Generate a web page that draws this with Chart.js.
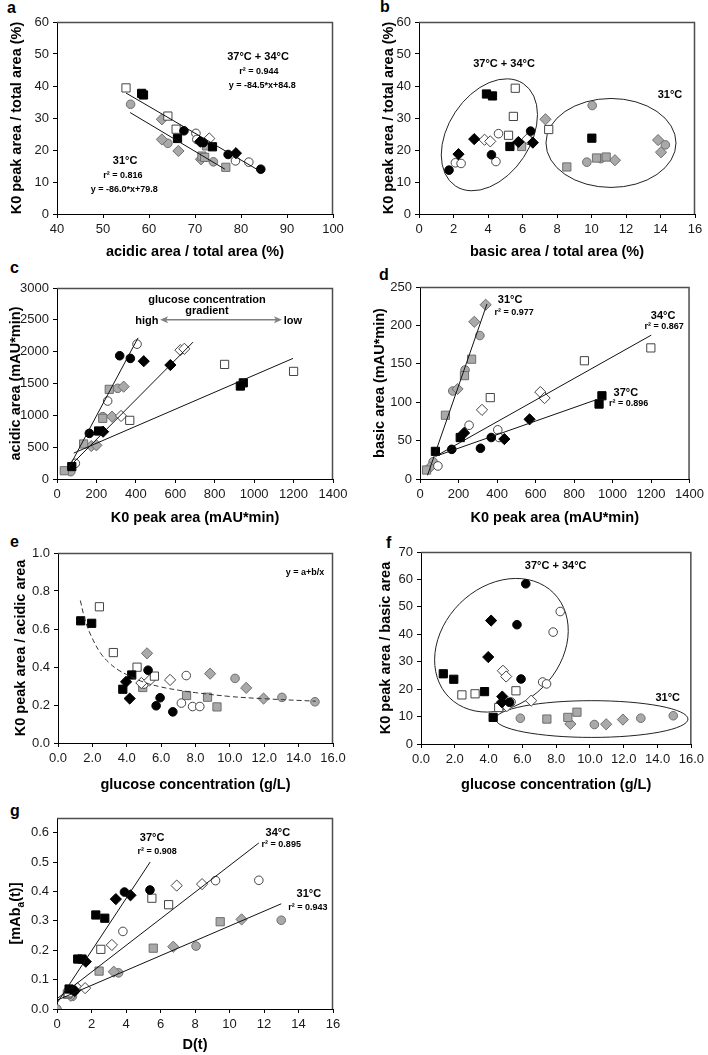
<!DOCTYPE html>
<html>
<head>
<meta charset="utf-8">
<script src="https://cdn.jsdelivr.net/npm/chart.js@4.4.0/dist/chart.umd.min.js"></script>
<style>
  body { margin:0; background:#fff; width:708px; height:1055px; position:relative; overflow:hidden; }
  .panel { position:absolute; }
  .letter { position:absolute; font:bold 16px "Liberation Sans", Arial, sans-serif; line-height:16px; color:#000; }
</style>
</head>
<body>
<div class="letter" style="left:7px;top:0px">a</div>
<div class="letter" style="left:380px;top:-1px">b</div>
<div class="letter" style="left:10px;top:260px">c</div>
<div class="letter" style="left:379px;top:267px">d</div>
<div class="letter" style="left:10px;top:534px">e</div>
<div class="letter" style="left:386px;top:535px">f</div>
<div class="letter" style="left:10px;top:803px">g</div>

<div class="panel"><canvas id="chartA"></canvas></div>
<div class="panel"><canvas id="chartB"></canvas></div>
<div class="panel"><canvas id="chartC"></canvas></div>
<div class="panel"><canvas id="chartD"></canvas></div>
<div class="panel"><canvas id="chartE"></canvas></div>
<div class="panel"><canvas id="chartF"></canvas></div>
<div class="panel"><canvas id="chartG"></canvas></div>

<script>
// DATOS (orden de series: 37°C cuadrado, rombo, circulo / 34°C ... / 31°C ...)

// a) K0/total vs acidic/total (%)
const aSq37 = [[58.4,37.7],[58.8,37.2],[66.2,23.6],[73.8,21.0]];
const aDi37 = [[71.1,22.6],[78.9,19.0]];
const aCi37 = [[67.6,26.0],[71.8,22.3],[77.2,18.6],[84.3,14.0]];
const aSq34 = [[55.0,39.4],[64.1,30.6],[65.9,26.5]];
const aDi34 = [[73.1,23.6]];
const aCi34 = [[70.2,25.2],[70.4,23.3],[78.8,16.6],[81.7,16.2]];
const aSq31 = [[72.5,21.3],[71.5,18.1],[72.1,17.7],[76.7,14.6]];
const aDi31 = [[62.8,29.6],[62.8,23.3],[66.4,19.7],[71.3,17.1]];
const aCi31 = [[56.0,34.3],[64.1,22.1],[74.0,16.3]];
const aFit3734 = [[55.0,37.8],[84.5,13.1]];
const aFit31 = [[55.9,31.7],[76.5,14.0]];

// b) K0/total vs basic/total (%)
const bSq37 = [[3.91,37.5],[4.26,36.9],[5.27,21.1],[10.02,23.7]];
const bDi37 = [[2.29,18.7],[3.2,23.4],[5.76,22.5],[6.6,22.3]];
const bCi37 = [[1.74,13.7],[4.2,18.5],[6.47,25.9]];
const bSq34 = [[5.19,24.6],[5.47,30.5],[5.58,39.3],[7.52,26.4]];
const bDi34 = [[3.8,23.2],[4.13,22.7],[6.28,23.4]];
const bCi34 = [[2.11,16.0],[2.44,15.8],[4.61,25.1],[4.46,16.4],[6.41,23.0]];
const bSq31 = [[5.95,21.1],[8.57,14.7],[10.29,17.5],[10.85,17.8]];
const bDi31 = [[7.33,29.6],[11.36,16.8],[13.86,23.1],[14.03,19.3]];
const bCi31 = [[9.73,16.2],[10.04,33.9],[10.54,17.3],[14.28,21.6]];

// c) acidic area vs K0 peak area
const cSq37 = [[75,195],[211,754],[930,1460],[945,1510]];
const cDi37 = [[234,743],[440,1850],[575,1790]];
const cCi37 = [[164,717],[318,1936],[372,1894]];
const cSq34 = [[369,921],[850,1800],[1200,1690]];
const cDi34 = [[325,990],[626,2024],[646,2045]];
const cCi34 = [[93,246],[257,1225],[406,2118]];
const cSq31 = [[37,130],[135,550],[232,953],[265,1408]];
const cDi31 = [[174,518],[200,529],[279,979],[338,1450]];
const cCi31 = [[70,115],[232,979],[308,1424]];
const cFit1 = [[59,172],[411,2217]];
const cFit2 = [[65,200],[690,2150]];
const cFit3 = [[85,407],[1197,1894]];

// d) basic area vs K0 peak area
const dSq37 = [[80,36],[209,54],[930,97.6],[945,108.4]];
const dDi37 = [[229,60],[438,52],[569,77.7]];
const dCi37 = [[165,38.6],[314,40],[370,54]];
const dSq34 = [[365,106],[854,154],[1199,170.7]];
const dDi34 = [[322,90],[625,113.2],[647,105.4]];
const dCi34 = [[93,17],[255,70],[404,64],[411,54]];
const dSq31 = [[34,11.7],[132,83],[231,134.6],[268,156]];
const dDi31 = [[51,15],[195,117.2],[282,204.7],[341,226.9]];
const dCi31 = [[68,22.5],[170,114.6],[234,142],[311,186.8]];
const dFit31 = [[39,4.8],[348,228]];
const dFit34 = [[81,29.6],[1201,187.3]];
const dFit37 = [[81,29.6],[921,103.7]];

// e) K0/acidic vs glucose
const eSq37 = [[1.32,0.643],[1.96,0.63],[3.77,0.283],[4.29,0.358]];
const eDi37 = [[3.96,0.322],[4.17,0.234]];
const eCi37 = [[5.24,0.383],[5.71,0.196],[5.94,0.238],[6.68,0.164]];
const eSq34 = [[2.41,0.717],[3.22,0.476],[4.6,0.399],[5.61,0.352]];
const eDi34 = [[4.85,0.316],[5.32,0.329],[6.52,0.332]];
const eCi34 = [[5.0,0.31],[7.46,0.355],[7.18,0.21],[7.83,0.192],[8.25,0.192]];
const eSq31 = [[4.93,0.292],[7.48,0.25],[8.7,0.241],[9.25,0.19]];
const eDi31 = [[5.18,0.472],[8.85,0.365],[10.95,0.29],[11.96,0.234]];
const eCi31 = [[10.3,0.34],[13.03,0.24],[14.95,0.217]];
const eCurveX = [1.3, 1.6, 2.0, 2.5, 3.0, 3.5, 4.0, 5.0, 6.0, 7.0, 8.0, 10.0, 12.0, 15.0];
const eCurveY = [0.75, 0.64, 0.55, 0.47, 0.42, 0.385, 0.36, 0.32, 0.295, 0.278, 0.265, 0.245, 0.233, 0.22];

// f) K0/basic vs glucose
const fSq37 = [[1.32,25.6],[1.94,23.6],[3.76,19.1],[4.27,9.7]];
const fDi37 = [[3.98,31.7],[4.15,45.0],[4.81,17.3],[4.79,15.2]];
const fCi37 = [[5.24,15.2],[5.68,43.5],[5.92,23.7],[6.2,58.4]];
const fSq34 = [[2.42,17.9],[3.2,18.3],[4.6,13.3],[5.62,19.4]];
const fDi34 = [[4.85,26.7],[5.04,24.6],[5.08,13.8],[6.52,15.8]];
const fCi34 = [[5.33,15.3],[7.2,22.6],[7.43,21.9],[7.82,40.8],[8.24,48.3]];
const fSq31 = [[7.45,9.1],[8.69,9.7],[9.23,11.6]];
const fDi31 = [[8.84,7.3],[10.96,7.2],[11.95,8.9]];
const fCi31 = [[5.88,9.4],[10.26,7.1],[13.01,9.4],[14.93,10.3]];

// g) [mAb_a(t)] vs D(t)
const gSq37 = [[0.7,0.068],[1.2,0.17],[1.45,0.17],[2.25,0.32],[2.77,0.309]];
const gDi37 = [[1.03,0.062],[1.67,0.161],[3.41,0.374],[4.26,0.387]];
const gCi37 = [[0.9,0.065],[3.91,0.398],[5.39,0.405]];
const gSq34 = [[0.65,0.055],[2.54,0.203],[5.5,0.377],[6.47,0.355]];
const gDi34 = [[1.18,0.071],[1.63,0.071],[3.18,0.218],[6.94,0.42],[8.41,0.425]];
const gCi34 = [[1.0,0.06],[3.82,0.264],[9.19,0.437],[11.7,0.438]];
const gSq31 = [[0.6,0.05],[2.44,0.129],[5.58,0.207],[9.46,0.297]];
const gDi31 = [[0.8,0.045],[3.29,0.127],[6.74,0.212],[10.7,0.305]];
const gCi31 = [[0,0],[0.89,0.043],[3.57,0.123],[8.06,0.214],[13.0,0.302]];
const gFit37 = [[0,0.02],[5.4,0.5]];
const gFit34 = [[0,0.035],[11.7,0.565]];
const gFit31 = [[0,0.03],[13.0,0.358]];

// ESTILOS
Chart.defaults.font.family = "'Liberation Sans', Arial, Helvetica, sans-serif";
Chart.defaults.color = '#1a1a1a';
const TIT = 14.5;

const marcadores = [
  { shape:'rect',    fill:'#000',    line:'#000' },
  { shape:'rectRot', fill:'#000',    line:'#000' },
  { shape:'circle',  fill:'#000',    line:'#000' },
  { shape:'rect',    fill:'#fff',    line:'#444' },
  { shape:'rectRot', fill:'#fff',    line:'#444' },
  { shape:'circle',  fill:'#fff',    line:'#444' },
  { shape:'rect',    fill:'#a9a9a9', line:'#6e6e6e' },
  { shape:'rectRot', fill:'#a9a9a9', line:'#6e6e6e' },
  { shape:'circle',  fill:'#a9a9a9', line:'#6e6e6e' }
];
const radios = { rect:5.8, rectRot:5.6, circle:4.3 };

function pts(arr) { return arr.map(([x, y]) => ({ x, y })); }

function series(listas) {
  return listas.map((arr, i) => {
    const m = marcadores[i];
    return {
      data: pts(arr), showLine:false,
      pointStyle:m.shape, pointRadius:radios[m.shape],
      backgroundColor:m.fill, borderColor:m.line, pointBorderWidth:1, order:1
    };
  });
}

function recta(arr, dash) {
  return {
    type:'line', data: pts(arr), showLine:true, pointRadius:0,
    borderColor:'#111', borderWidth:1, borderDash: dash || [], fill:false, order:-1
  };
}

// plugin: marco, elipses, flecha y textos
const decor = {
  id:'decor',
  beforeDatasetsDraw(chart, args, opts) {
    const { ctx, chartArea:a, scales } = chart;
    ctx.save();
    ctx.strokeStyle = '#4d4d4d';
    ctx.lineWidth = 1.5;
    ctx.beginPath();
    ctx.moveTo(a.left, a.top + 0.5);
    ctx.lineTo(a.right - 0.5, a.top + 0.5);
    ctx.lineTo(a.right - 0.5, a.bottom);
    ctx.stroke();
    (opts.elipses || []).forEach(e => {
      const cx = scales.x.getPixelForValue(e.x), cy = scales.y.getPixelForValue(e.y);
      const rx = Math.abs(scales.x.getPixelForValue(e.x + e.rx) - cx);
      const ry = Math.abs(scales.y.getPixelForValue(e.y + e.ry) - cy);
      ctx.strokeStyle = '#222';
      ctx.lineWidth = 1;
      ctx.beginPath();
      ctx.ellipse(cx, cy, rx, ry, e.rot * Math.PI / 180, 0, Math.PI * 2);
      ctx.stroke();
    });
    ctx.restore();
  },
  afterDatasetsDraw(chart, args, opts) {
    const { ctx, scales } = chart;
    ctx.save();
    if (opts.flecha) {
      const f = opts.flecha;
      const x1 = scales.x.getPixelForValue(f.x1), x2 = scales.x.getPixelForValue(f.x2);
      const y = scales.y.getPixelForValue(f.y);
      ctx.strokeStyle = '#808080';
      ctx.fillStyle = '#808080';
      ctx.lineWidth = 1.5;
      ctx.beginPath(); ctx.moveTo(x1 + 4, y); ctx.lineTo(x2 - 4, y); ctx.stroke();
      ctx.beginPath(); ctx.moveTo(x1, y); ctx.lineTo(x1 + 8, y - 3.5); ctx.lineTo(x1 + 6, y); ctx.lineTo(x1 + 8, y + 3.5); ctx.closePath(); ctx.fill();
      ctx.beginPath(); ctx.moveTo(x2, y); ctx.lineTo(x2 - 8, y - 3.5); ctx.lineTo(x2 - 6, y); ctx.lineTo(x2 - 8, y + 3.5); ctx.closePath(); ctx.fill();
    }
    ctx.fillStyle = '#000';
    ctx.textAlign = 'center';
    ctx.textBaseline = 'middle';
    (opts.textos || []).forEach(t => {
      ctx.font = `bold ${t.size}px 'Liberation Sans', Arial, sans-serif`;
      ctx.fillText(t.text, scales.x.getPixelForValue(t.x), scales.y.getPixelForValue(t.y));
    });
    if (opts.tituloY) {
      // titulo con subindice
      const a = chart.chartArea;
      const p = opts.tituloY;
      ctx.translate(p.cx, (a.top + a.bottom) / 2);
      ctx.rotate(-Math.PI / 2);
      ctx.textAlign = 'left';
      ctx.textBaseline = 'alphabetic';
      const big = `bold ${TIT}px 'Liberation Sans', Arial, sans-serif`;
      const small = "bold 10px 'Liberation Sans', Arial, sans-serif";
      ctx.font = big; const w1 = ctx.measureText(p.pre).width; const w3 = ctx.measureText(p.post).width;
      ctx.font = small; const w2 = ctx.measureText(p.sub).width;
      let x = -(w1 + w2 + w3) / 2;
      ctx.font = big; ctx.fillText(p.pre, x, 5); x += w1;
      ctx.font = small; ctx.fillText(p.sub, x, 8.5); x += w2;
      ctx.font = big; ctx.fillText(p.post, x, 5);
    }
    ctx.restore();
  }
};
Chart.register(decor);

function eje(min, max, step, titulo, dec) {
  return {
    type:'linear', min, max,
    ticks:{ stepSize:step, autoSkip:false, maxRotation:0, includeBounds:false, padding:4,
            font:{ size:13 }, color:'#1a1a1a',
            callback: v => dec != null ? Number(v).toFixed(dec) : String(Math.round(v)) },
    grid:{ drawOnChartArea:false, tickLength:4, tickColor:'#000', color:'#000' },
    border:{ color:'#000', width:1 },
    title:{ display: !!titulo, text: titulo, color:'#000', padding:0, font:{ size:TIT, weight:'bold' } }
  };
}

function crearPanel(id, caja, datasets, ejeX, ejeY, extra) {
  const el = document.getElementById(id);
  el.parentNode.style.cssText = `left:${caja.left}px;top:${caja.top}px;width:${caja.w}px;height:${caja.h}px`;
  el.width = caja.w; el.height = caja.h;
  const [pl, pt, pr, pb] = caja.plot;
  const anchoY = pl - caja.left - caja.padL;
  const altoX = caja.top + caja.h - caja.padB - pb;
  ejeX.afterFit = s => { s.height = altoX; };
  ejeY.afterFit = s => { s.width = anchoY; };
  return new Chart(el, {
    type:'scatter',
    data:{ datasets },
    options:{
      responsive:false, animation:false, events:[],
      layout:{ padding:{ left:caja.padL, top:pt - caja.top, right:caja.left + caja.w - pr, bottom:caja.padB } },
      plugins:{ legend:{ display:false }, tooltip:{ enabled:false }, decor: extra || {} },
      scales:{ x: ejeX, y: ejeY }
    }
  });
}

// a
crearPanel('chartA',
  { left:0, top:0, w:354, h:265, plot:[57,22,333,214], padL:8, padB:4 },
  [...series([aSq37,aDi37,aCi37,aSq34,aDi34,aCi34,aSq31,aDi31,aCi31]), recta(aFit3734), recta(aFit31)],
  eje(40,100,10,'acidic area / total area (%)'),
  eje(0,60,10,'K0 peak area / total area (%)'),
  { textos:[
    { x:83.7, y:49.1, text:'37°C + 34°C', size:11 },
    { x:83.9, y:44.4, text:'r² = 0.944', size:9 },
    { x:84.6, y:40.0, text:'y = -84.5*x+84.8', size:9 },
    { x:54.8, y:16.6, text:'31°C', size:11 },
    { x:54.3, y:11.9, text:'r² = 0.816', size:9 },
    { x:54.6, y:7.8,  text:'y = -86.0*x+79.8', size:9 }
  ]});

// b
crearPanel('chartB',
  { left:354, top:0, w:354, h:265, plot:[419,22,695,214], padL:26, padB:4 },
  series([bSq37,bDi37,bCi37,bSq34,bDi34,bCi34,bSq31,bDi31,bCi31]),
  eje(0,16,2,'basic area / total area (%)'),
  eje(0,60,10,'K0 peak area / total area (%)'),
  { elipses:[
      { x:4.08, y:24.75, rx:3.56, ry:12.8, rot:-56.5 },
      { x:11.13, y:22.2, rx:3.77, ry:13.9, rot:0 }
    ],
    textos:[
      { x:4.93, y:46.9, text:'37°C + 34°C', size:11 },
      { x:14.55, y:37.2, text:'31°C', size:11 }
    ]});

// c
crearPanel('chartC',
  { left:0, top:265, w:354, h:265, plot:[57,288,333,479], padL:7, padB:3 },
  [...series([cSq37,cDi37,cCi37,cSq34,cDi34,cCi34,cSq31,cDi31,cCi31]), recta(cFit1), recta(cFit2), recta(cFit3)],
  eje(0,1400,200,'K0 peak area (mAU*min)'),
  eje(0,3000,500,'acidic area (mAU*min)'),
  { flecha:{ x1:523, x2:1141, y:2500 },
    textos:[
      { x:761, y:2811, text:'glucose concentration', size:11 },
      { x:761, y:2639, text:'gradient', size:11 },
      { x:456, y:2485, text:'high', size:11 },
      { x:1197, y:2485, text:'low', size:11 }
    ]});

// d
crearPanel('chartD',
  { left:354, top:265, w:354, h:265, plot:[420,287,695,479], padL:17, padB:3 },
  [...series([dSq37,dDi37,dCi37,dSq34,dDi34,dCi34,dSq31,dDi31,dCi31]), recta(dFit31), recta(dFit34), recta(dFit37)],
  eje(0,1400,200,'K0 peak area (mAU*min)'),
  eje(0,250,50,'basic area (mAU*min)'),
  { textos:[
    { x:468, y:233, text:'31°C', size:11 },
    { x:489, y:217, text:'r² = 0.977', size:9 },
    { x:1263, y:212, text:'34°C', size:11 },
    { x:1268, y:198, text:'r² = 0.867', size:9 },
    { x:1069, y:112, text:'37°C', size:11 },
    { x:1084, y:97.7, text:'r² = 0.896', size:9 }
  ]});

// e
const eCurva = eCurveX.map((x, i) => [x, eCurveY[i]]);
const eDash = recta(eCurva, [5,3]);
eDash.tension = 0.4;
eDash.borderColor = '#333';
crearPanel('chartE',
  { left:0, top:530, w:354, h:264, plot:[58,553,333,743], padL:12, padB:0 },
  [...series([eSq37,eDi37,eCi37,eSq34,eDi34,eCi34,eSq31,eDi31,eCi31]), eDash],
  eje(0,16,2,'glucose concentration (g/L)',1),
  eje(0,1,0.2,'K0 peak area / acidic area',1),
  { textos:[ { x:14.37, y:0.895, text:'y = a+b/x', size:9 } ] });

// f
crearPanel('chartF',
  { left:354, top:530, w:354, h:264, plot:[421,552,696,744], padL:23, padB:0 },
  series([fSq37,fDi37,fCi37,fSq34,fDi34,fCi34,fSq31,fDi31,fCi31]),
  eje(0,16,2,'glucose concentration (g/L)',1),
  eje(0,70,10,'K0 peak area / basic area'),
  { elipses:[
      { x:4.76, y:36.0, rx:4.37, ry:21.5, rot:-45 },
      { x:10.11, y:9.1, rx:5.69, ry:6.7, rot:0 }
    ],
    textos:[
      { x:7.97, y:64.9, text:'37°C + 34°C', size:11 },
      { x:14.6, y:16.8, text:'31°C', size:11 }
    ]});

// g
crearPanel('chartG',
  { left:0, top:794, w:354, h:261, plot:[57,818,333,1009], padL:7, padB:1 },
  [...series([gSq37,gDi37,gCi37,gSq34,gDi34,gCi34,gSq31,gDi31,gCi31]), recta(gFit37), recta(gFit34), recta(gFit31)],
  eje(0,16,2,'D(t)'),
  eje(0,0.65,0.1,null,1),
  { tituloY:{ cx:15, pre:'[mAb', sub:'a', post:'(t)]' },
    textos:[
      { x:5.51, y:0.583, text:'37°C', size:11 },
      { x:5.8,  y:0.536, text:'r² = 0.908', size:9 },
      { x:12.8, y:0.6,   text:'34°C', size:11 },
      { x:13.0, y:0.559, text:'r² = 0.895', size:9 },
      { x:14.6, y:0.393, text:'31°C', size:11 },
      { x:14.55,y:0.346, text:'r² = 0.943', size:9 }
    ]});
</script>
</body>
</html>
